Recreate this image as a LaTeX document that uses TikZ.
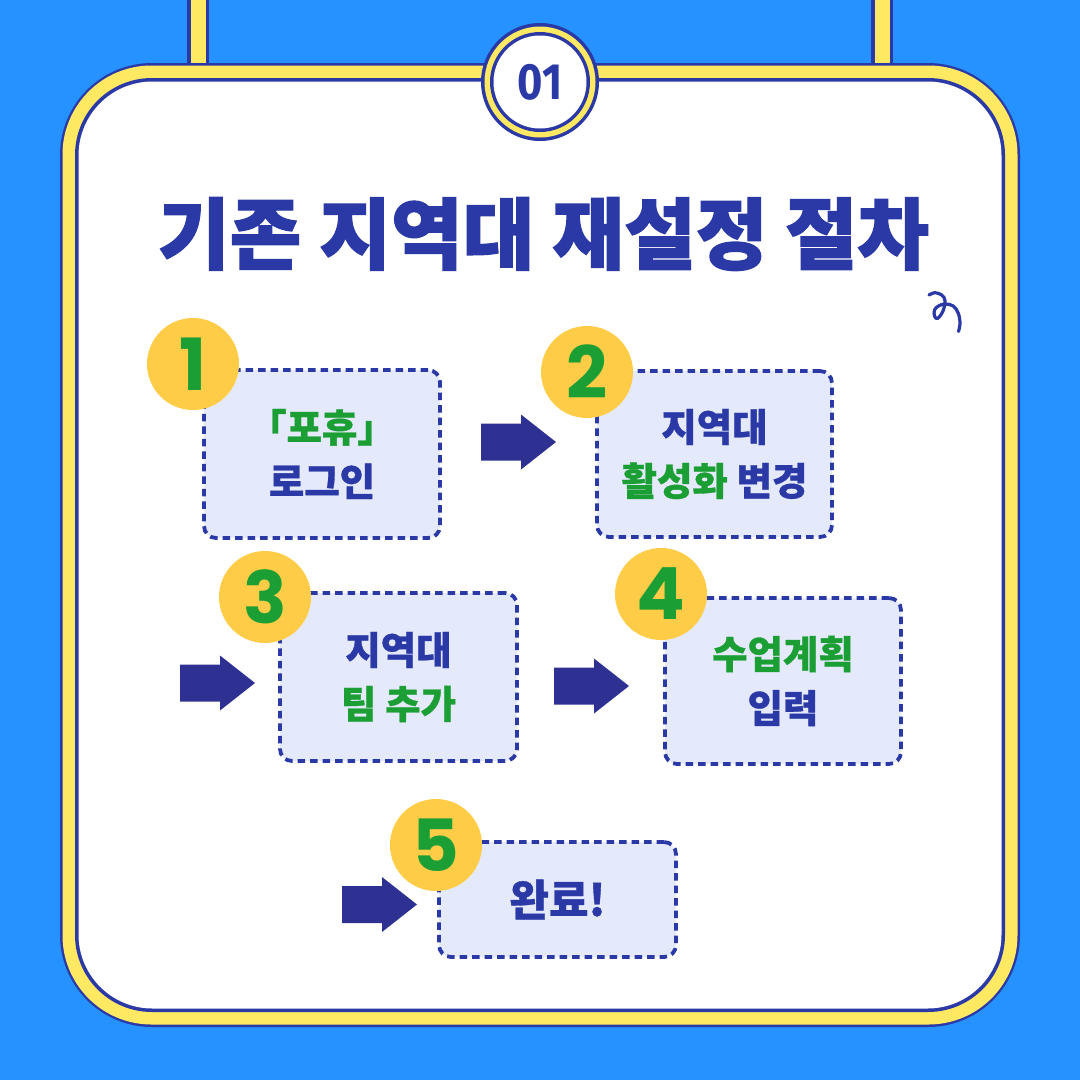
\documentclass[tikz,border=0pt]{standalone}
\usepackage{fontspec}
\newfontfamily\kr{Noto Sans CJK KR}[BoldFeatures={FakeBold=0.8}]
\newfontfamily\krt{Noto Sans CJK KR}[BoldFeatures={FakeBold=1.6}]
\newfontfamily\pop{Poppins}
\newfontfamily\fira{Fira Sans}
\definecolor{bgblue}{HTML}{2592FF}
\definecolor{navy}{HTML}{2A39A6}
\definecolor{arrowc}{HTML}{2E3192}
\definecolor{frameyellow}{HTML}{FFE963}
\definecolor{badgey}{HTML}{FFCC48}
\definecolor{grn}{HTML}{1B9E33}
\definecolor{boxfill}{HTML}{E4E9FC}
\tikzset{
  stepbox/.style={draw=navy, fill=boxfill, line width=3.8pt, dash pattern=on 7.5pt off 5pt,
    rounded corners=12pt, align=center, text=navy,
    font=\kr\bfseries\fontsize{38.5}{54}\selectfont, inner sep=0pt},
  badge/.style={circle, fill=badgey, minimum size=92pt, inner sep=0pt, text=grn,
    font=\pop\bfseries\fontsize{72}{72}\selectfont},
  blockarrow/.pic={\fill[arrowc] (0,-18.5) -- (40,-18.5) -- (40,-27.5) -- (75,0)
    -- (40,27.5) -- (40,18.5) -- (0,18.5) -- cycle;}
}
\begin{document}
\begin{tikzpicture}[x=1pt,y=-1pt]
\useasboundingbox (0,0) rectangle (1080,1080);
\fill[bgblue] (0,0) rectangle (1080,1080);
% hanging bars
\fill[navy] (187,0) rectangle (209,70);
\fill[frameyellow] (191,0) rectangle (205.5,70);
\fill[navy] (871,0) rectangle (893,70);
\fill[frameyellow] (875,0) rectangle (889.5,70);
% frame
\fill[navy, rounded corners=92pt] (60,63) rectangle (1020,1027);
\fill[frameyellow, rounded corners=89pt] (62.5,65.5) rectangle (1017.5,1024.5);
\fill[navy, rounded corners=77pt] (75,78) rectangle (1005,1012);
\fill[white, rounded corners=74pt] (78.5,81.5) rectangle (1001.5,1008.5);
% number circle
\fill[navy] (540,82) circle (59pt);
\fill[frameyellow] (540,82) circle (55.5pt);
\fill[navy] (540,82) circle (50pt);
\fill[white] (540,82) circle (46.5pt);
\node[text=navy, font=\fira\bfseries\fontsize{51}{51}\selectfont, inner sep=0pt] (num) at (540,82) {\scalebox{0.85}[1]{01}};
% title
\node[text=navy, font=\krt\bfseries\fontsize{78}{78}\selectfont, inner sep=0pt] (title) at (543.5,234) {기존 지역대 재설정 절차};
% squiggle
\draw[navy, line width=3.2pt, line cap=round, line join=round]
  plot[smooth, tension=0.6] coordinates {(929,295) (935,292.7) (941.7,295) (945,300.5) (943,311) (937.5,318.5) (934.5,316) (934.5,310) (938.5,306) (945,304) (953.3,306) (958.3,313.3) (960,323.3) (958.5,331.5)};
% boxes
\node[stepbox, minimum width=236pt, minimum height=168pt] (s1) at (322,454)
  {\textcolor{grn}{「포휴」}\\로그인};
\node[stepbox, minimum width=235pt, minimum height=166pt] (s2) at (714.5,454)
  {지역대\\\textcolor{grn}{활성화} 변경};
\node[stepbox, minimum width=237pt, minimum height=168pt] (s3) at (398.5,677)
  {지역대\\\textcolor{grn}{팀 추가}};
\node[stepbox, minimum width=236pt, minimum height=166pt] (s4) at (783,681)
  {\textcolor{grn}{수업계획}\\입력};
\node[stepbox, minimum width=237pt, minimum height=115pt, font=\kr\bfseries\fontsize{43}{54}\selectfont] (s5) at (557.5,899.5)
  {완료!};
% badges
\node[badge] (b1) at (193,364) {1};
\node[badge] (b2) at (587,372) {2};
\node[badge] (b3) at (265,597) {3};
\node[badge] (b4) at (661,594) {4};
\node[badge] (b5) at (436,845) {5};
% arrows
\pic (a1) at (481,442) {blockarrow};
\pic (a3) at (180,683) {blockarrow};
\pic (a4) at (554,686) {blockarrow};
\pic (a5) at (342,904.5) {blockarrow};
\end{tikzpicture}
\end{document}
